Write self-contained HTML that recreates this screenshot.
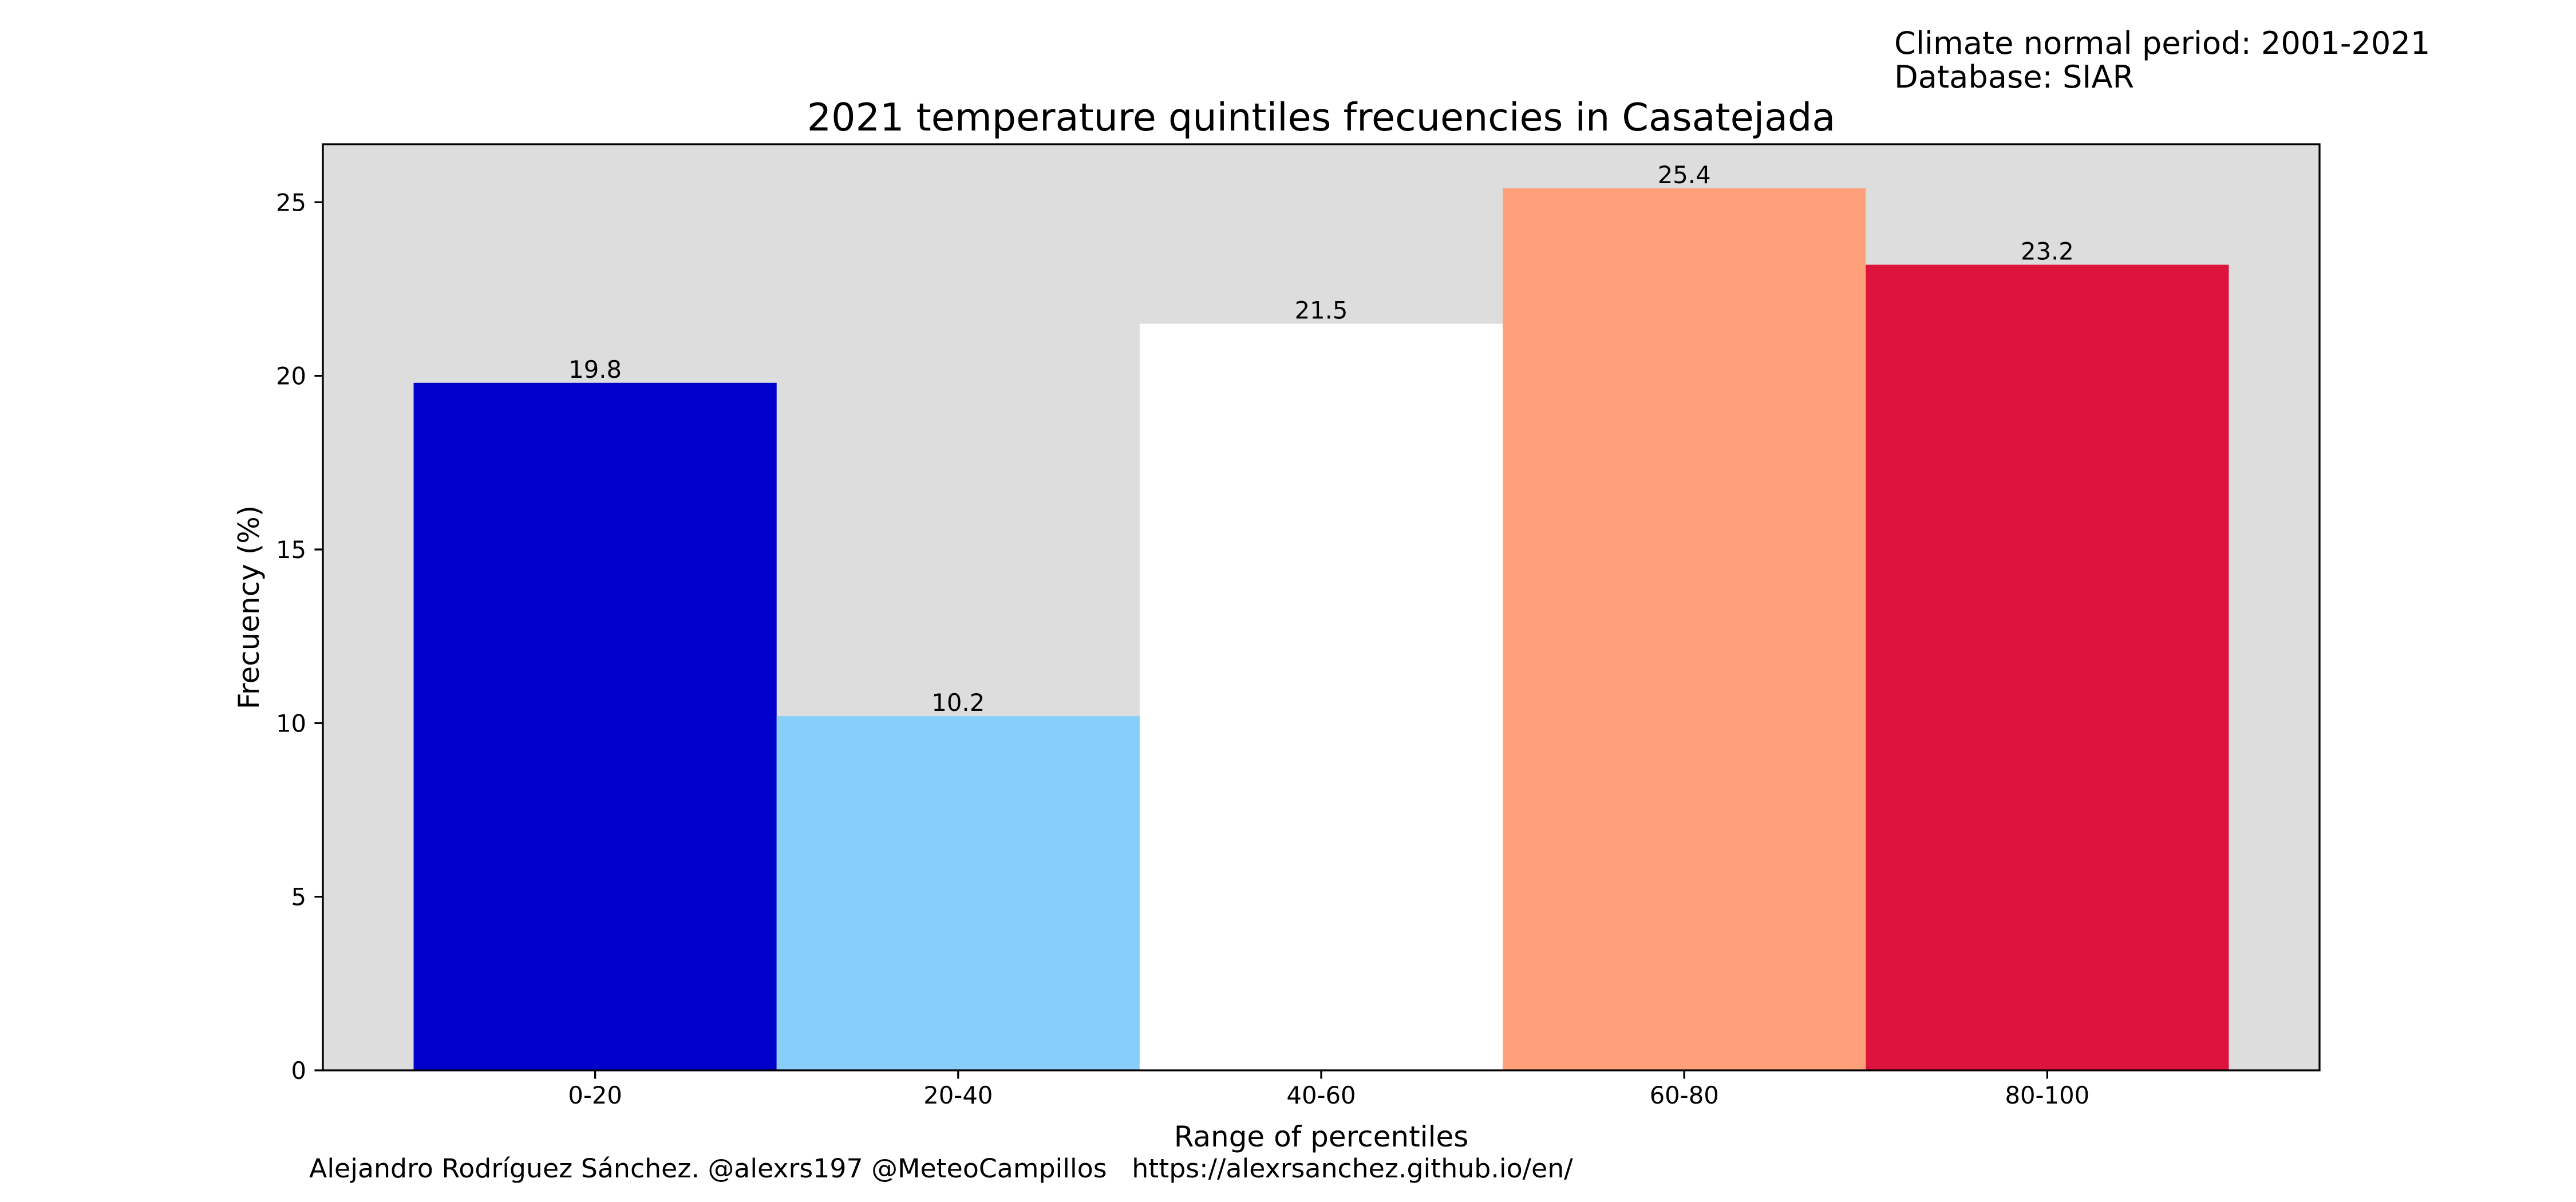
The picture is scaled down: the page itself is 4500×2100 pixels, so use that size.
<!DOCTYPE html>
<html><head><meta charset="utf-8"><style>
html,body{margin:0;padding:0;background:#fff;}
svg{display:block;font-family:"DejaVu Sans","Liberation Sans",sans-serif;}
</style></head><body>
<svg id="chart" width="4500" height="2100" viewBox="0 0 4500 2100" xmlns="http://www.w3.org/2000/svg">
<text x="3309" y="94" font-size="54.2">Climate normal period: 2001-2021</text>
<text x="3309" y="153" font-size="54.2">Database: SIAR</text>
<text x="2308" y="228" font-size="66.7" text-anchor="middle">2021 temperature quintiles frecuencies in Casatejada</text>
<rect x="564" y="252" width="3488" height="1618" fill="#dddddd"/>
<g id="bars"></g>
<g id="yaxis"></g>
<g id="xaxis"></g>
<rect x="564" y="252" width="3488" height="1618" fill="none" stroke="#000" stroke-width="3.3"/>
<text x="2308" y="2003" font-size="50" text-anchor="middle">Range of percentiles</text>
<text transform="translate(452,1061) rotate(-90)" font-size="50" text-anchor="middle">Frecuency (%)</text>
<text x="540" y="2057" font-size="45.8" xml:space="preserve" style="white-space:pre">Alejandro Rodríguez Sánchez. @alexrs197 @MeteoCampillos   https://alexrsanchez.github.io/en/</text>
</svg>
<script>
const categories = ["0-20","20-40","40-60","60-80","80-100"];
const values = [19.8, 10.2, 21.5, 25.4, 23.2];
const valueLabels = ["19.8","10.2","21.5","25.4","23.2"];
const colors = ["#0000cd","#87cefa","#ffffff","#ffa07a","#dc143c"];
const yTicks = [0,5,10,15,20,25];

const NS = "http://www.w3.org/2000/svg";
const L=564, R=4052, T=252, B=1870;
const xMin=-0.75, xMax=categories.length-0.25;
const yMax=Math.max(...values)*1.05;
function xs(v){return L+(v-xMin)/(xMax-xMin)*(R-L);}
function ys(v){return B-v/yMax*(B-T);}
function mk(tag,attrs,parent,txt){const e=document.createElementNS(NS,tag);for(const k in attrs)e.setAttribute(k,attrs[k]);if(txt!==undefined)e.textContent=txt;parent.appendChild(e);return e;}

const gb=document.getElementById("bars");
values.forEach((v,i)=>{
  const x0=xs(i-0.5), x1=xs(i+0.5);
  const r=mk("rect",{x:x0,y:ys(v),width:x1-x0,height:B-ys(v),fill:colors[i]},gb);
  
  
  const t=mk("text",{x:xs(i),y:ys(v)-9,"font-size":41.7,"text-anchor":"middle"},gb,valueLabels[i]);
  
  
});
const gy=document.getElementById("yaxis");
yTicks.forEach(v=>{
  const y=ys(v);
  const l=mk("line",{x1:L-14.6,x2:L,y1:y,y2:y,stroke:"#000","stroke-width":3.3},gy);
  
  
  const t=mk("text",{x:L-29,y:y+15,"font-size":41.7,"text-anchor":"end"},gy,String(v));
  
  
});
const gx=document.getElementById("xaxis");
categories.forEach((c,i)=>{
  const x=xs(i);
  const l=mk("line",{x1:x,x2:x,y1:B,y2:B+14.6,stroke:"#000","stroke-width":3.3},gx);
  
  
  const t=mk("text",{x:x,y:1928,"font-size":41.7,"text-anchor":"middle"},gx,c);
  
  
});
</script>
</body></html>
